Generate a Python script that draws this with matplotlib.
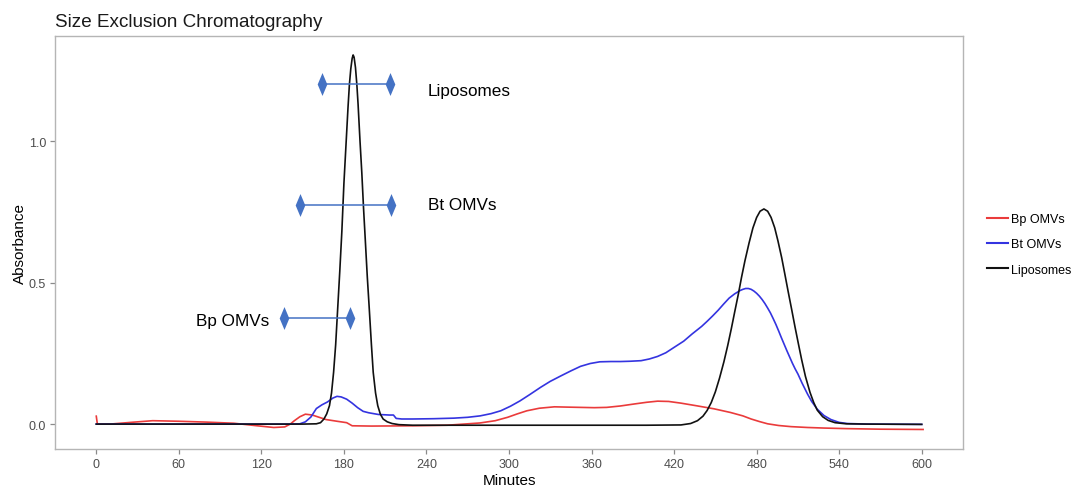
import matplotlib
matplotlib.use("Agg")
import matplotlib.pyplot as plt
from matplotlib.path import Path
from matplotlib.lines import Line2D

plt.rcParams['font.family'] = ['Liberation Sans', 'DejaVu Sans']

# ---------------- data ----------------
bp_t = [0, 0.8, 10, 25, 41, 60, 80, 100, 115, 129, 137, 141, 144, 148, 152, 157, 162, 167,
        175, 182, 186, 200, 230, 255, 279, 290, 299, 306, 313, 322, 333, 342, 352, 362,
        371, 381, 391, 400, 408, 416, 425, 436, 449, 461, 470, 476, 482, 488, 496, 505,
        517, 529, 545, 570, 601]
bp_v = [0.028, 0.0, 0.0, 0.006, 0.012, 0.010, 0.007, 0.003, -0.005, -0.012, -0.010, 0.0,
        0.012, 0.026, 0.035, 0.032, 0.024, 0.016, 0.010, 0.005, -0.006, -0.007, -0.006,
        -0.004, 0.004, 0.012, 0.024, 0.036, 0.047, 0.056, 0.061, 0.060, 0.059, 0.058,
        0.059, 0.064, 0.071, 0.077, 0.081, 0.080, 0.074, 0.065, 0.054, 0.041, 0.029,
        0.018, 0.009, 0.001, -0.005, -0.009, -0.012, -0.014, -0.016, -0.018, -0.019]

bt_t = [0, 10, 50, 100, 140, 148, 152, 156, 160, 164, 168, 172, 175, 178, 182, 186, 190,
        194, 198, 205, 213, 216, 218, 222, 230, 245, 260, 270, 279, 287, 294, 301, 308,
        315, 323, 330, 338, 345, 352, 359, 366, 374, 381, 388, 396, 402, 408, 414, 420,
        427, 433, 440, 444, 448, 452, 456, 460, 464, 466, 468, 470, 472, 474, 476, 478,
        480, 482, 484, 486, 488, 490, 492, 494, 496, 498, 500, 502, 504, 506, 508, 510,
        513, 517, 520, 524, 529, 534, 540, 546, 560, 600]
bt_v = [0.0, 0.0, 0.0, 0.0, 0.0, 0.001, 0.008, 0.025, 0.055, 0.068, 0.078, 0.092, 0.098,
        0.096, 0.088, 0.074, 0.058, 0.045, 0.040, 0.034, 0.032, 0.032, 0.020, 0.018,
        0.018, 0.019, 0.021, 0.024, 0.029, 0.037, 0.047, 0.063, 0.082, 0.104, 0.130,
        0.151, 0.171, 0.188, 0.204, 0.214, 0.220, 0.221, 0.221, 0.222, 0.224, 0.230,
        0.239, 0.252, 0.271, 0.293, 0.318, 0.345, 0.363, 0.382, 0.402, 0.424, 0.445,
        0.460, 0.466, 0.472, 0.476, 0.479, 0.479, 0.476, 0.470, 0.462, 0.452, 0.440,
        0.426, 0.410, 0.393, 0.373, 0.352, 0.329, 0.305, 0.282, 0.259, 0.237, 0.215,
        0.195, 0.177, 0.145, 0.106, 0.080, 0.053, 0.030, 0.016, 0.006, 0.002, 0.0, -0.001]

lip_t = [0, 50, 100, 150, 160, 163, 165.5, 167.5, 169.5, 171, 172.5, 174, 175.5, 177,
         178.5, 180, 181.5, 183, 184, 185, 186, 186.7, 187.4, 188.4, 189.4, 190.3, 191.7,
         193, 194.3, 195.5, 197, 198.3, 200, 201.3, 203, 204.6, 206.5, 208.5, 211.5, 215,
         220, 230, 300, 400, 425, 432, 437, 441, 444, 447, 450, 453, 456.2, 459, 461.6,
         464, 466.7, 469, 471.5, 474.5, 477.3, 480, 482.5, 485.3, 488, 490.5, 493.1,
         495.5, 498.2, 500.5, 503, 505.5, 507.9, 510.3, 512.7, 515.5, 518.8, 521.5, 524.1,
         528, 532, 537, 545, 560, 600]
lip_v = [0.0, 0.0, 0.0, 0.0, 0.001, 0.005, 0.018, 0.036, 0.065, 0.110, 0.183, 0.280,
         0.410, 0.540, 0.680, 0.850, 0.985, 1.120, 1.200, 1.255, 1.292, 1.304, 1.296,
         1.260, 1.200, 1.130, 1.000, 0.889, 0.760, 0.654, 0.520, 0.418, 0.280, 0.183,
         0.110, 0.065, 0.035, 0.018, 0.008, 0.002, -0.002, -0.004, -0.004, -0.004,
         -0.003, 0.002, 0.012, 0.028, 0.048, 0.076, 0.114, 0.162, 0.220, 0.278, 0.337,
         0.395, 0.459, 0.518, 0.577, 0.640, 0.693, 0.730, 0.752, 0.760, 0.752, 0.730,
         0.694, 0.647, 0.588, 0.530, 0.466, 0.404, 0.343, 0.285, 0.228, 0.168, 0.112,
         0.076, 0.049, 0.026, 0.013, 0.005, 0.001, 0.0, -0.001]

series_names = ['Bp OMVs', 'Bt OMVs', 'Liposomes']
series_colors = ['#ea3b3b', '#3434e0', '#111111']

ann_labels = ['Liposomes', 'Bt OMVs', 'Bp OMVs']
ann_left = [164.2, 148.4, 136.2]
ann_right = [213.8, 214.0, 184.7]
ann_y = [1.201, 0.773, 0.374]
ann_text_x = [241, 241, 125.5]
ann_text_y = [1.180, 0.777, 0.366]
ann_ha = ['left', 'left', 'right']

x_ticks = [0, 60, 120, 180, 240, 300, 360, 420, 480, 540, 600]
y_ticks = [0.0, 0.5, 1.0]

# ---------------- figure ----------------
fig = plt.figure(figsize=(10.76, 4.89), dpi=100)
ax = fig.add_axes([55 / 1076, 39 / 489, 908 / 1076, 413 / 489])

for t, v, name, col in zip([bp_t, bt_t, lip_t], [bp_v, bt_v, lip_v], series_names, series_colors):
    ax.plot(t, v, color=col, lw=1.2, label=name, solid_joinstyle='round')

diamond = Path([(0, 1), (0.42, 0), (0, -1), (-0.42, 0), (0, 1)],
               [Path.MOVETO, Path.LINETO, Path.LINETO, Path.LINETO, Path.CLOSEPOLY])
acol = '#4472c4'
for lab, xl, xr, y, tx, ty, ha in zip(ann_labels, ann_left, ann_right, ann_y,
                                      ann_text_x, ann_text_y, ann_ha):
    ax.plot([xl, xr], [y, y], color=acol, lw=1.1, zorder=4)
    ax.plot([xl, xr], [y, y], ls='none', marker=diamond, ms=16.5, color=acol,
            markeredgewidth=0, zorder=5)
    ax.text(tx, ty, lab, ha=ha, va='center', fontsize=12.3, color='black', zorder=6)

ax.set_xlim(-30, 630)
ax.set_ylim(-0.088, 1.371)
ax.set_xticks(x_ticks)
ax.set_xticklabels([str(x) for x in x_ticks])
ax.set_yticks(y_ticks)
ax.set_yticklabels(['%.1f' % y for y in y_ticks])

for s in ax.spines.values():
    s.set_color('#b5b5b5')
    s.set_linewidth(1.0)
ax.tick_params(axis='both', length=3.5, width=0.9, color='#8a8a8a',
               labelcolor='#4d4d4d', labelsize=9, pad=3)

ax.set_xlabel('Minutes', fontsize=11, labelpad=2)
ax.set_ylabel('Absorbance', fontsize=11, labelpad=1)
ax.set_title('Size Exclusion Chromatography', fontsize=13.6, loc='left', pad=7, x=0.0,
             color='#1a1a1a')

handles = [Line2D([0], [0], color=c, lw=1.5) for c in series_colors]
fig.legend(handles, series_names, loc='center left', bbox_to_anchor=(987 / 1076, 0.498),
           frameon=False, fontsize=9, handlelength=1.65, handletextpad=0.25,
           labelspacing=1.05, borderpad=0, borderaxespad=0)

fig.savefig('out.png', dpi=100)
